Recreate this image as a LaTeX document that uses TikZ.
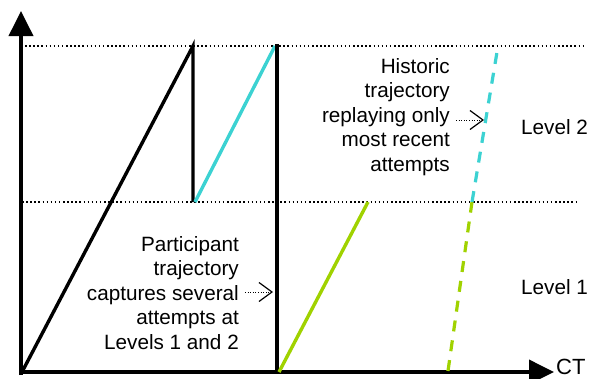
\documentclass[tikz,border=0pt]{standalone}
\usepackage{fontspec}
\setmainfont{Liberation Sans}
\usetikzlibrary{arrows.meta}
\definecolor{lvlcyan}{RGB}{60,210,210}
\definecolor{lvlgreen}{RGB}{160,210,0}

\begin{document}
\begin{tikzpicture}[x=1pt, y=-1pt,
  axis/.style={line width=3.8pt, -{Triangle[length=25pt, width=24pt]}},
  trace/.style={line width=3.4pt, line cap=butt},
  levelline/.style={line width=1.3pt, dash pattern=on 1.5pt off 2.6pt},
  hist/.style={line width=3.2pt, dash pattern=on 11pt off 9pt},
  pointer/.style={line width=1pt, dash pattern=on 1pt off 1.6pt,
    -{Straight Barb[length=13pt, width=19pt, line width=1.2pt]}},
  every node/.style={font=\fontsize{20.7}{24.5}\selectfont, inner sep=2pt}]
  \useasboundingbox (0,0) rectangle (592,378);

  % axes
  \coordinate (O) at (21,375);
  \coordinate (Ytop) at (21,11);
  \coordinate (Xo) at (19,372);
  \coordinate (Xend) at (554,372);
  \draw[axis] (O) -- (Ytop);
  \draw[axis] (Xo) -- (Xend);
  \node (ct) [anchor=west, font=\fontsize{22}{26}\selectfont] at (554,367) {CT};

  % level boundaries
  \coordinate (top1) at (25,46);
  \coordinate (top2) at (583,46);
  \coordinate (mid1) at (22,202);
  \coordinate (mid2) at (577,202);
  \draw[levelline] (top1) -- (top2);
  \draw[levelline] (mid1) -- (mid2);
  \node (lvl2) [anchor=west] at (519,127) {Level 2};
  \node (lvl1) [anchor=west] at (519,287) {Level 1};

  % participant trajectory
  \coordinate (p0) at (22,372);
  \coordinate (p1) at (193,46);
  \coordinate (p2) at (193,202);
  \coordinate (p3) at (195,202);
  \coordinate (p4) at (275,46);
  \coordinate (p5) at (277,44);
  \coordinate (p6) at (277,372);
  \coordinate (p7) at (279,372);
  \coordinate (p8) at (368,202);
  \draw[trace, line join=miter] (p0) -- (p1) -- (p2);
  \draw[trace, lvlcyan] (p3) -- (p4);
  \draw[trace] (p5) -- (p6);
  \draw[trace, lvlgreen] (p7) -- (p8);

  % historic trajectory
  \coordinate (h0) at (448,371);
  \coordinate (h1) at (472,202);
  \coordinate (h2) at (497,52);
  \draw[hist, lvlgreen] (h0) -- (h1);
  \draw[hist, lvlcyan] (h1) -- (h2);

  % notes
  \node (pnote) [align=right, anchor=east] at (241,293)
    {Participant\\trajectory\\captures several\\attempts at\\Levels 1 and 2};
  \coordinate (ptip) at (273,292);
  \draw[pointer] (pnote.east) ++(4,-1) coordinate (pstart) (pstart) -- (ptip);

  \node (hnote) [align=right, anchor=east] at (452,117)
    {Historic\\trajectory\\replaying only\\most recent\\attempts};
  \coordinate (htip) at (484,120);
  \draw[pointer] (hnote.east) ++(4,3) coordinate (hstart) (hstart) -- (htip);
\end{tikzpicture}
\end{document}
